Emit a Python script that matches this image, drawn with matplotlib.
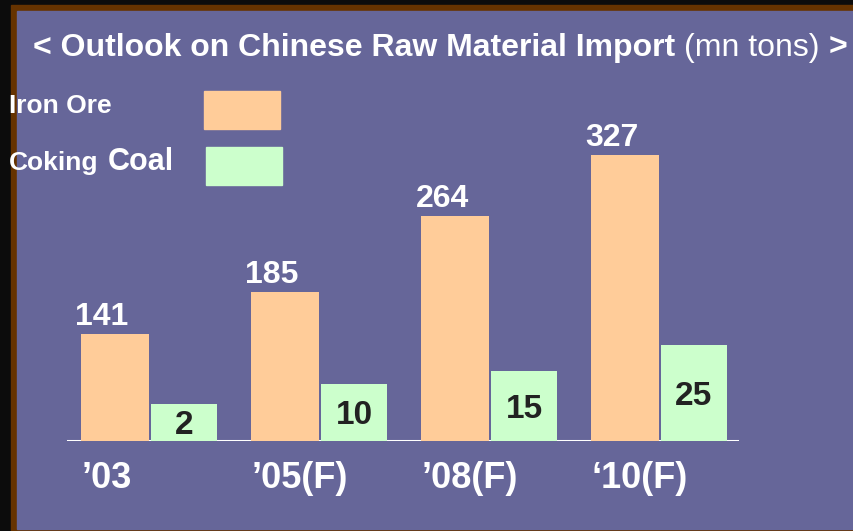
import numpy as np
import matplotlib
matplotlib.use('Agg')
import matplotlib.pyplot as plt
from matplotlib.patches import Rectangle

plt.rcParams['font.family'] = ['Liberation Sans', 'DejaVu Sans']

# Data (mn tons)
years = ['\u201903', '\u201905(F)', '\u201908(F)', '\u201810(F)']
iron_ore = [141, 185, 264, 327]
coking_coal = [2, 10, 15, 25]

bg = '#666699'; iron_c = '#FFCC99'; coal_c = '#CCFFCC'

W, H = 854, 531
fig = plt.figure(figsize=(W/100, H/100), dpi=100, facecolor='#0c0c0c')
def fx(px): return px / W
def fy(py): return 1 - py / H

# frame: brown border + purple slide
fig.patches.append(Rectangle((fx(11), 0), 1 - fx(11), fy(5), transform=fig.transFigure,
                             color='#663300', zorder=-2))
fig.patches.append(Rectangle((fx(17), fy(529)), 1 - fx(17), fy(11) - fy(529),
                             transform=fig.transFigure, color=bg, zorder=-1))

ax = fig.add_axes([0, fy(441), 1, fy(11) - fy(441)])
ax.set_facecolor('none')
ax2 = ax.twinx()
for a in (ax, ax2):
    a.set_axis_off()

x = np.arange(len(years))
ax.set_xlim(-150/170, (W - 150)/170)
iron_lo = 30; coal_lo = -12.5     # separate scales, as on the slide
ax.set_ylim(iron_lo, iron_lo + 430/0.963)
ax2.set_ylim(coal_lo, coal_lo + 430/2.55)

ax.axhline(iron_lo, xmin=fx(68), xmax=fx(737), color='white', lw=2.2, zorder=0.5)
ax.bar(x - 0.205, np.array(iron_ore) - iron_lo, bottom=iron_lo, width=0.4,
       color=iron_c, zorder=1)
ax2.bar(x + 0.2, np.array(coking_coal) - coal_lo, bottom=coal_lo, width=0.39,
        color=coal_c, zorder=1)

for xi, v in zip(x, iron_ore):
    ax.annotate(str(v), (xi - 0.205, v), xytext=(-9.4, 6.5), textcoords='offset points',
                ha='center', va='baseline', fontsize=23, fontweight='bold', color='white')
for xi, v in zip(x, coking_coal):
    ax2.annotate(str(v), (xi + 0.2, (v + coal_lo)/2), xytext=(0, -8.6), textcoords='offset points',
                 ha='center', va='baseline', fontsize=24, fontweight='bold', color='#222222')
for xi, lab in zip(x, years):
    ax.annotate(lab, (xi - 0.4, iron_lo), xytext=(0, -34), textcoords='offset points',
                ha='left', va='baseline', fontsize=26, fontweight='bold', color='white')

# title in three pieces (bold / regular / bold)
t1 = fig.text(fx(33), fy(56), '< Outlook on Chinese Raw Material Import', fontsize=23,
              fontweight='bold', color='white', va='baseline')
t2 = ax.annotate('(mn tons)', xy=(1, 0), xycoords=t1, xytext=(6.4, 0), textcoords='offset points',
                 fontsize=23, color='white', va='bottom', ha='left')
ax.annotate('>', xy=(1, 0), xycoords=t2, xytext=(6.4, 0), textcoords='offset points',
            fontsize=23, fontweight='bold', color='white', va='bottom', ha='left')

# legend
fig.text(fx(9), fy(113), 'Iron Ore', fontsize=19, fontweight='bold', color='white', va='baseline')
fig.text(fx(9), fy(170), 'Coking', fontsize=19, fontweight='bold', color='white', va='baseline')
fig.text(fx(108), fy(170), 'Coal', fontsize=22, fontweight='bold', color='white', va='baseline')
fig.patches.append(Rectangle((fx(204), fy(129)), fx(76), fy(91) - fy(129),
                             transform=fig.transFigure, color=iron_c))
fig.patches.append(Rectangle((fx(206), fy(185)), fx(76), fy(147) - fy(185),
                             transform=fig.transFigure, color=coal_c))

fig.savefig('out.png', dpi=100, facecolor=fig.get_facecolor())
